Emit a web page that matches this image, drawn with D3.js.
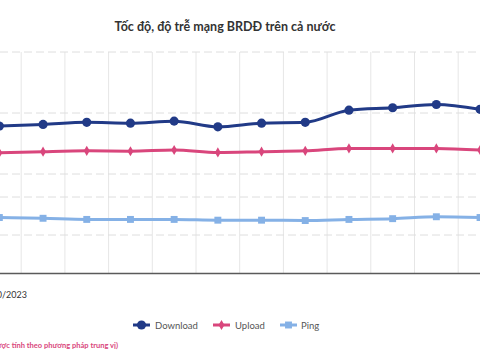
<!DOCTYPE html>
<html><head><meta charset="utf-8">
<script src="https://cdn.jsdelivr.net/npm/d3@7"></script>
<style>
html,body{margin:0;padding:0;background:#fff;}
svg{display:block;font-family:Lato,"Open Sans",sans-serif;}
</style></head>
<body><svg id="c" width="480" height="360"></svg>
<script>
const categories = ["11/2022","12/2022","01/2023","02/2023","03/2023","04/2023","05/2023","06/2023","07/2023","08/2023","09/2023","10/2023"];
const download = [41.8, 42.2, 42.7, 42.5, 43.0, 41.6, 42.5, 42.7, 45.7, 46.3, 47.1, 45.9];
const upload   = [35.2, 35.5, 35.7, 35.6, 35.9, 35.3, 35.5, 35.7, 36.3, 36.3, 36.3, 35.9];
const ping     = [14.6, 14.4, 14.1, 14.1, 14.1, 13.9, 13.9, 13.8, 14.1, 14.3, 14.8, 14.6];
const speedTicks = [15, 30, 45, 60];
const pingTicks = [10, 20];
const title = "Tốc độ, độ trễ mạng BRDĐ trên cả nước";
const dateNote = "Tháng 10/2023";
const methodNote = "(*Tốc độ được tính theo phương pháp trung vị)";
const seriesNames = ["Download", "Upload", "Ping"];

const svg = d3.select("#c");
const plotTop = 52, plotBottom = 273;
const x = d3.scaleBand().domain(categories).range([-22.5, -22.5 + 43.7*categories.length]).paddingInner(0).paddingOuter(0);
const cx = d => x(d) + x.bandwidth()/2;
const y = d3.scaleLinear().domain([0, 60]).range([296, 52]);
const yp = d3.scaleLinear().domain([0, 20]).range([273, 197]);

const g = svg.append("g");
const bounds = categories.slice(1).map(c => x(c));
g.selectAll("line.v").data(bounds).enter().append("line")
  .attr("x1", d => d).attr("x2", d => d).attr("y1", plotTop).attr("y2", plotBottom)
  .attr("stroke", "#e6e6e6").attr("stroke-width", 1);
g.selectAll("line.h").data(speedTicks).enter().append("line")
  .attr("x1", 0).attr("x2", 480).attr("y1", d => y(d)).attr("y2", d => y(d))
  .attr("stroke", "#dedede").attr("stroke-dasharray", "8,4");
g.selectAll("line.hp").data(pingTicks.filter(t => Math.abs(yp(t) - 235.3) > 3)).enter().append("line")
  .attr("x1", 0).attr("x2", 480).attr("y1", d => yp(d)).attr("y2", d => yp(d))
  .attr("stroke", "#dedede").attr("stroke-dasharray", "8,4");
svg.append("g").attr("transform", `translate(0,${plotBottom})`)
  .call(d3.axisBottom(x).tickSize(0).tickFormat(""))
  .call(a => a.select(".domain").attr("stroke", "#5a5a5a").attr("stroke-width", 1.6));

const series = [
  {name: seriesNames[0], values: download, sc: y, color: "#213a87", sym: d3.symbolCircle, size: 66},
  {name: seriesNames[1], values: upload, sc: y, color: "#d9467c", sym: d3.symbolDiamond, size: 30},
  {name: seriesNames[2], values: ping, sc: yp, color: "#85b1e6", sym: d3.symbolSquare, size: 48}
];
series.forEach(s => {
  const line = d3.line().x((d, i) => cx(categories[i])).y(d => s.sc(d)).curve(d3.curveMonotoneX);
  svg.append("path").datum(s.values).attr("d", line)
    .attr("fill", "none").attr("stroke", s.color).attr("stroke-width", 3);
  svg.append("g").selectAll("path").data(s.values).enter().append("path")
    .attr("d", d3.symbol().type(s.sym).size(s.size))
    .attr("transform", (d, i) => `translate(${cx(categories[i])},${s.sc(d)})`)
    .attr("fill", s.color);
});

svg.append("text").attr("x", 225).attr("y", 31).attr("text-anchor", "middle")
  .attr("font-size", 12.5).attr("font-weight", "bold").attr("fill", "#333").text(title);
svg.append("text").attr("x", 27).attr("y", 298).attr("text-anchor", "end")
  .attr("font-size", 9).attr("fill", "#333").text(dateNote);
svg.append("text").attr("x", 118).attr("y", 348).attr("text-anchor", "end")
  .attr("font-size", 7.5).attr("font-weight", "bold").attr("fill", "#d9467c").text(methodNote);

const legX = [133, 213, 280];
const lg = svg.append("g").selectAll("g").data(series).enter().append("g")
  .attr("transform", (d, i) => `translate(${legX[i]},325)`);
lg.append("line").attr("x1", 0).attr("x2", 17).attr("stroke", d => d.color).attr("stroke-width", 3);
lg.append("path").attr("transform", "translate(8.5,0)")
  .attr("d", d => d3.symbol().type(d.sym).size(d.size)()).attr("fill", d => d.color);
lg.append("text").attr("x", (d, i) => i === 2 ? 21 : 22).attr("y", 3.5)
  .attr("font-size", 9.5).attr("fill", "#555").text(d => d.name);
</script></body></html>
